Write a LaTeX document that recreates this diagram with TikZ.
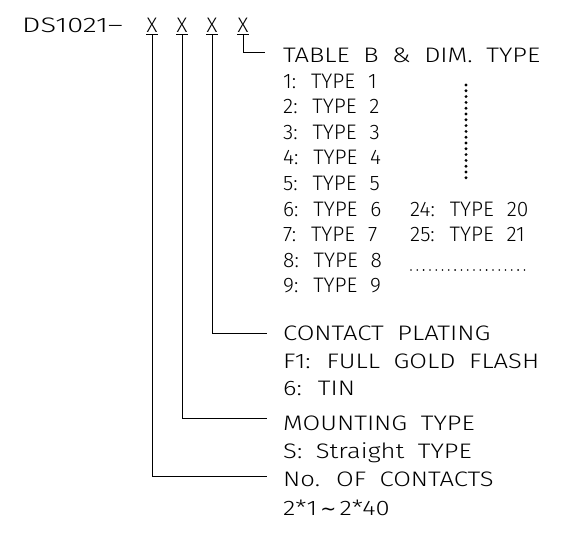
\documentclass[tikz,border=0pt]{standalone}
\usepackage{fontspec}
\setmainfont{Fira Sans Light}[WordSpace=2.2]
\newfontfamily\widefont{Fira Sans Light}[FakeStretch=1.22, WordSpace=1.9]
\newfontfamily\pnfont{Fira Sans Light}[FakeStretch=1.38]
\newfontfamily\symfont{DejaVu Sans}
\begin{document}
\begin{tikzpicture}[x=1pt,y=-1pt,
  txt/.style={anchor=base west, inner sep=0pt, font=\fontsize{21}{21}\selectfont},
  wtxt/.style={anchor=base west, inner sep=0pt, font=\fontsize{21}{21}\widefont},
  ptxt/.style={anchor=base west, inner sep=0pt, font=\fontsize{21}{21}\pnfont},
  xch/.style={anchor=base, inner sep=0pt, font=\fontsize{21}{21}\selectfont},
  conn/.style={line width=0.8pt, black},
  dotv/.style={fill=black},
]
\useasboundingbox (0,0) rectangle (573,533);
% part number
\node[ptxt] (pn) at (22,32) {DS1021–};
\node[xch] (x1) at (152,32) {X};
\node[xch] (x2) at (182,32) {X};
\node[xch] (x3) at (212,32) {X};
\node[xch] (x4) at (243,32) {X};
\foreach \n in {x1,x2,x3,x4}
  \draw[conn] ([yshift=-2pt]\n.base west) -- ([yshift=-2pt]\n.base east);
% connector ends
\coordinate (e4) at (265,52);
\coordinate (e3) at (267,333);
\coordinate (e2) at (267,418);
\coordinate (e1) at (267,476);
\draw[conn] ([yshift=-2pt]x4.base) |- (e4);
\draw[conn] ([yshift=-2pt]x3.base) |- (e3);
\draw[conn] ([yshift=-2pt]x2.base) |- (e2);
\draw[conn] ([yshift=-2pt]x1.base) |- (e1);
% table B
\node[wtxt] (tb) at (283,62) {TABLE B \& DIM. TYPE};
\foreach \i in {1,...,9}
  \node[txt] (r\i) at (283,{88+25.6*(\i-1)}) {\i: TYPE \i};
\node[txt] (s24) at (410,216) {24: TYPE 20};
\node[txt] (s25) at (410,241.6) {25: TYPE 21};
\foreach \k in {0,...,16}
  \fill[dotv] (466,{85+5.8*\k}) circle (1.6);
\foreach \k in {0,...,18}
  \fill[dotv] ({411+6.3*\k},270) circle (0.9);
% contact plating
\node[wtxt] (cp) at (283,340) {CONTACT PLATING};
\node[wtxt] (f1) at (283,368) {F1: FULL GOLD FLASH};
\node[wtxt] (tin) at (283,395) {6: TIN};
% mounting
\node[wtxt] (mt) at (283,430) {MOUNTING TYPE};
\node[wtxt] (st) at (283,458) {S: Straight TYPE};
% contacts
\node[wtxt] (noc) at (283,486) {No. OF CONTACTS};
\node[wtxt] (rng) at (283,515) {2*1{\symfont\fontsize{19}{19}\selectfont\,∼\,}2*40};
\end{tikzpicture}
\end{document}
